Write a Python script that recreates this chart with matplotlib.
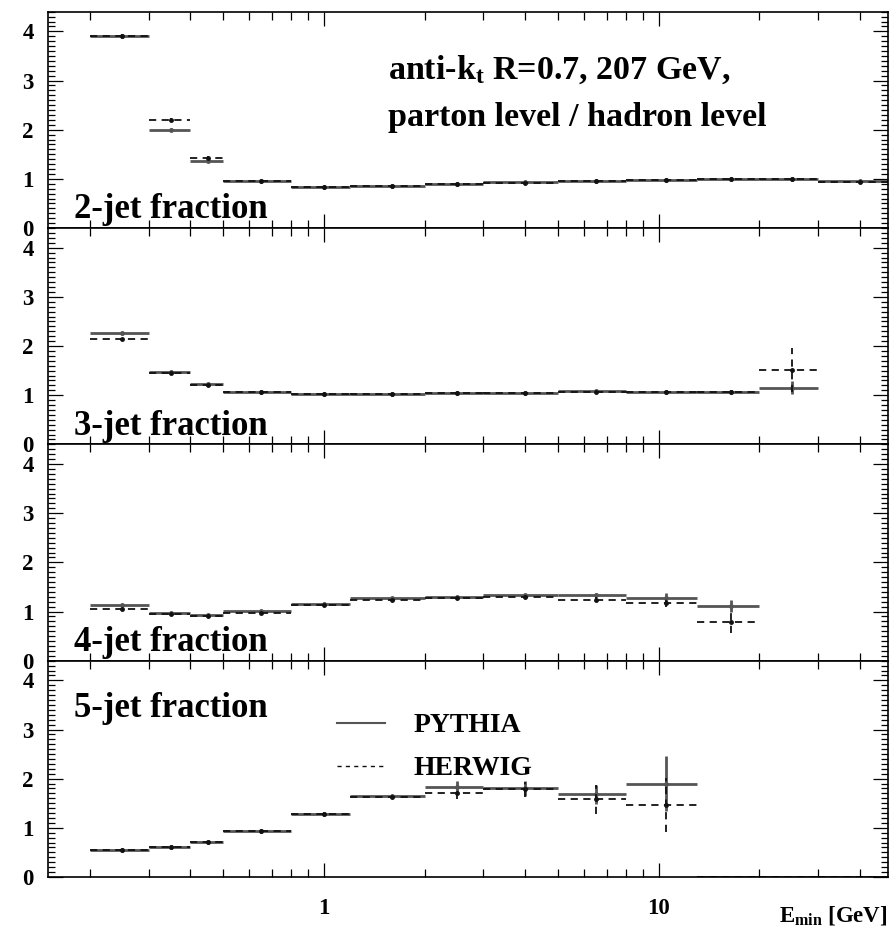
import numpy as np
import matplotlib
matplotlib.use('Agg')
from matplotlib import pyplot as plt
from matplotlib.lines import Line2D
from matplotlib.ticker import LogLocator, MultipleLocator, NullFormatter, FuncFormatter

plt.rcParams['font.family'] = ['Liberation Serif', 'DejaVu Serif']
plt.rcParams['font.weight'] = 'bold'
plt.rcParams['mathtext.fontset'] = 'custom'
plt.rcParams['mathtext.rm'] = 'Liberation Serif:bold'
plt.rcParams['mathtext.it'] = 'Liberation Serif:bold'
plt.rcParams['mathtext.bf'] = 'Liberation Serif:bold'

# bin edges in E_min [GeV]
edges = [0.2, 0.3, 0.4, 0.5, 0.8, 1.2, 2, 3, 5, 8, 13, 20, 30, 50]

panel_labels = ['2-jet fraction', '3-jet fraction', '4-jet fraction', '5-jet fraction']

# parton level / hadron level ratios
pythia_2j = [3.90, 2.00, 1.36, 0.96, 0.83, 0.86, 0.90, 0.93, 0.96, 0.97, 0.99, 0.99, 0.95]
herwig_2j = [3.90, 2.20, 1.43, 0.96, 0.83, 0.85, 0.89, 0.92, 0.95, 0.97, 0.99, 0.99, 0.94]
pythia_2j_err = [0.04, 0.03, 0.02, 0.01, 0.01, 0.01, 0.01, 0.01, 0.01, 0.01, 0.01, 0.01, 0.01]
herwig_2j_err = [0.04, 0.04, 0.03, 0.01, 0.01, 0.01, 0.01, 0.01, 0.01, 0.01, 0.01, 0.01, 0.01]

pythia_3j = [2.26, 1.47, 1.22, 1.07, 1.02, 1.02, 1.05, 1.05, 1.09, 1.07, 1.07, 1.15]
herwig_3j = [2.14, 1.45, 1.20, 1.06, 1.02, 1.02, 1.04, 1.05, 1.06, 1.06, 1.06, 1.51]
pythia_3j_err = [0.03, 0.02, 0.02, 0.01, 0.01, 0.01, 0.01, 0.01, 0.01, 0.02, 0.03, 0.13]
herwig_3j_err = [0.03, 0.03, 0.02, 0.01, 0.01, 0.01, 0.01, 0.01, 0.02, 0.02, 0.04, 0.45]

pythia_4j = [1.13, 0.96, 0.93, 1.02, 1.16, 1.27, 1.30, 1.33, 1.33, 1.28, 1.11]
herwig_4j = [1.05, 0.94, 0.91, 0.97, 1.13, 1.24, 1.28, 1.30, 1.24, 1.18, 0.78]
pythia_4j_err = [0.01, 0.01, 0.01, 0.01, 0.01, 0.01, 0.02, 0.02, 0.04, 0.09, 0.12]
herwig_4j_err = [0.01, 0.01, 0.01, 0.01, 0.01, 0.01, 0.02, 0.03, 0.05, 0.09, 0.22]

pythia_5j = [0.54, 0.62, 0.72, 0.93, 1.29, 1.64, 1.83, 1.80, 1.68, 1.90, 0.0, 0.0, 0.0]
herwig_5j = [0.54, 0.61, 0.71, 0.93, 1.29, 1.63, 1.71, 1.78, 1.58, 1.46, 0.0, 0.0, 0.0]
pythia_5j_err = [0.01, 0.01, 0.01, 0.01, 0.02, 0.03, 0.12, 0.15, 0.20, 0.56, 0.0, 0.0, 0.0]
herwig_5j_err = [0.01, 0.01, 0.01, 0.01, 0.02, 0.03, 0.12, 0.15, 0.30, 0.55, 0.0, 0.0, 0.0]

pythia = [pythia_2j, pythia_3j, pythia_4j, pythia_5j]
herwig = [herwig_2j, herwig_3j, herwig_4j, herwig_5j]
pythia_err = [pythia_2j_err, pythia_3j_err, pythia_4j_err, pythia_5j_err]
herwig_err = [herwig_2j_err, herwig_3j_err, herwig_4j_err, herwig_5j_err]

solid = dict(color='#555555', linewidth=2.0, linestyles='solid')
dashed = dict(color='#111111', linewidth=1.3, linestyles=(0, (4, 3)))


def draw_hist(ax, vals, errs, style):
    vals = np.array(vals)
    errs = np.array(errs)
    n = len(vals)
    lo = np.array(edges[:n])
    hi = np.array(edges[1:n + 1])
    mid = 0.5 * (lo + hi)
    ax.hlines(vals, lo, hi, **style)
    ax.vlines(mid, vals - errs, vals + errs, **style)
    keep = vals > 0
    ax.plot(mid[keep], vals[keep], 'o', ms=2.5, color=style['color'], linestyle='none')


fig, axes = plt.subplots(4, 1, figsize=(8.9, 9.3), dpi=100, sharex=True)
fig.subplots_adjust(left=0.0536, right=0.9981, top=0.9874, bottom=0.057, hspace=0)

for i, ax in enumerate(axes):
    draw_hist(ax, pythia[i], pythia_err[i], solid)
    draw_hist(ax, herwig[i], herwig_err[i], dashed)

    ax.set_xscale('log')
    ax.set_xlim(0.15, 48.5)
    ax.set_ylim(0, 4.4)
    ax.xaxis.set_major_locator(LogLocator(base=10))
    ax.xaxis.set_minor_locator(LogLocator(base=10, subs=np.arange(2, 10)))
    ax.xaxis.set_minor_formatter(NullFormatter())
    ax.xaxis.set_major_formatter(FuncFormatter(lambda v, p: '%g' % v))
    ax.yaxis.set_major_locator(MultipleLocator(1))
    ax.yaxis.set_minor_locator(MultipleLocator(0.1))
    ax.tick_params(axis='both', which='both', direction='in', top=True, right=True,
                   width=0.9, labelsize=16.5, colors='black')
    ax.tick_params(axis='x', which='major', length=10, pad=15)
    ax.tick_params(axis='x', which='minor', length=6)
    ax.tick_params(axis='y', which='major', length=11, pad=10)
    ax.tick_params(axis='y', which='minor', length=5)
    for s in ax.spines.values():
        s.set_linewidth(1.2)

    if i < 3:
        ax.text(0.031, 0.045, panel_labels[i], transform=ax.transAxes,
                fontsize=25, fontweight='bold', va='baseline', ha='left')
    else:
        ax.text(0.031, 0.741, panel_labels[i], transform=ax.transAxes,
                fontsize=25, fontweight='bold', va='baseline', ha='left')

axes[0].text(0.405, 0.689, r'anti-k$_t$ R=0.7, 207 GeV,', transform=axes[0].transAxes,
             fontsize=24.5, fontweight='bold', va='baseline', ha='left')
axes[0].text(0.405, 0.472, 'parton level / hadron level', transform=axes[0].transAxes,
             fontsize=24.5, fontweight='bold', va='baseline', ha='left')

handles = [Line2D([], [], color='#555555', lw=1.5),
           Line2D([], [], color='#111111', lw=1.0, linestyle=(0, (3, 3)))]
axes[3].legend(handles, ['PYTHIA', 'HERWIG'], loc='upper left', bbox_to_anchor=(0.344, 0.758),
               frameon=False, fontsize=20, handlelength=1.75, handletextpad=1.0,
               labelspacing=0.63, borderpad=0, borderaxespad=0)

fig.text(887 / 890, 1 - 921 / 930, r'E$_{\mathrm{min}}$ [GeV]', ha='right', va='baseline',
         fontsize=16.5, fontweight='bold')

fig.savefig('out.png', dpi=100)
